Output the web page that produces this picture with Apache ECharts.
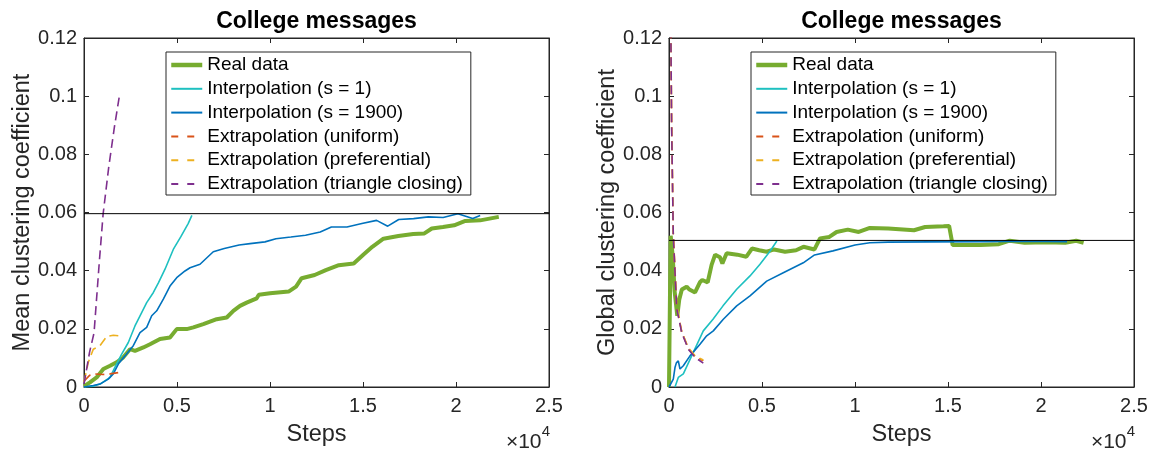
<!DOCTYPE html>
<html>
<head>
<meta charset="utf-8">
<title>College messages</title>
<script src="https://cdn.jsdelivr.net/npm/echarts@6/dist/echarts.min.js"></script>
<style>
  html, body { margin: 0; padding: 0; background: #fff; }
  #chart { width: 1153px; height: 452px; }
</style>
</head>
<body>
<div id="chart"></div>
<script>
// x ticks (steps) and y ticks
const xTicks = [0, 5000, 10000, 15000, 20000, 25000]
const yTicks = [0, 0.02, 0.04, 0.06, 0.08, 0.1, 0.12]

const seriesNames = [
  'Real data',
  'Interpolation (s = 1)',
  'Interpolation (s = 1900)',
  'Extrapolation (uniform)',
  'Extrapolation (preferential)',
  'Extrapolation (triangle closing)'
]

// left panel: mean clustering coefficient  [step, value]
const meanReal = [
  [0, 0.0003], [54, 0.0005], [320, 0.0016], [680, 0.0033], [1040, 0.0062], [1400, 0.0073],
  [1756, 0.0085], [2113, 0.0102], [2473, 0.013], [2742, 0.0124], [3190, 0.0136], [3548, 0.0147],
  [4086, 0.0165], [4624, 0.017], [4984, 0.0199], [5522, 0.0199], [5880, 0.0205], [6414, 0.0216],
  [7134, 0.0233], [7672, 0.0239], [8030, 0.0262], [8387, 0.0279], [8747, 0.029], [9285, 0.0305],
  [9400, 0.0317], [10000, 0.0322], [11000, 0.0328], [11400, 0.0345], [11700, 0.0374],
  [12400, 0.0385], [13000, 0.0402], [13700, 0.0419], [14500, 0.0425], [15000, 0.0454],
  [15500, 0.0482], [16100, 0.051], [16900, 0.0519], [17700, 0.0526], [18300, 0.0528],
  [18700, 0.0545], [19300, 0.055], [19900, 0.0556], [20500, 0.0571], [21300, 0.0573],
  [22300, 0.0585]
]
const meanInterp1 = [
  [0, 0], [500, 0.0003], [860, 0.001], [1398, 0.0033], [1667, 0.0068], [2025, 0.0113],
  [2382, 0.0153], [2740, 0.021], [3100, 0.0256], [3370, 0.029], [3730, 0.0325], [4000, 0.0358],
  [4355, 0.0405], [4800, 0.0473], [5200, 0.0516], [5600, 0.0562], [5800, 0.059]
]
const meanInterp1900 = [
  [0, 0], [500, 0.0005], [860, 0.001], [1306, 0.0027], [1575, 0.0045], [1844, 0.0079],
  [2204, 0.0107], [2650, 0.0142], [3010, 0.0187], [3370, 0.0205], [3640, 0.0245], [3910, 0.0262],
  [4265, 0.0302], [4624, 0.0347], [4984, 0.0376], [5430, 0.0399], [5700, 0.041], [6237, 0.0422],
  [6950, 0.0465], [7540, 0.0476], [8340, 0.0488], [8930, 0.0493], [9730, 0.0499], [10320, 0.051],
  [11120, 0.0516], [11910, 0.0522], [12700, 0.0533], [13300, 0.055], [14140, 0.055],
  [14940, 0.0562], [15730, 0.0573], [16330, 0.0553], [16920, 0.0576], [17720, 0.0579],
  [18510, 0.0585], [19310, 0.0583], [20100, 0.0596], [20900, 0.0579], [21300, 0.059]
]
const meanUniform = [
  [0, 0.002], [300, 0.004], [600, 0.0045], [1000, 0.0043], [1400, 0.0045], [1900, 0.005]
]
const meanPreferential = [
  [0, 0.0017], [231, 0.0085], [500, 0.013], [860, 0.0142], [1220, 0.0174], [1575, 0.0178], [1900, 0.0176]
]
const meanTriangle = [
  [0, 0.001], [300, 0.012], [540, 0.0186], [830, 0.0436], [1030, 0.0596], [1330, 0.0756],
  [1630, 0.0892], [1900, 0.1]
]
const meanTarget = 0.0596

// right panel: global clustering coefficient  [step, value]
const globalReal = [
  [0, 0], [50, 0.03], [90, 0.052], [200, 0.045], [300, 0.033], [446, 0.0245], [550, 0.03],
  [690, 0.0335], [950, 0.0345], [1100, 0.0335], [1400, 0.0325], [1660, 0.036], [1790, 0.0368],
  [2080, 0.036], [2290, 0.042], [2480, 0.0455], [2740, 0.0446], [2870, 0.0425], [3100, 0.046],
  [3670, 0.0455], [4160, 0.0448], [4460, 0.0476], [4850, 0.047], [5250, 0.0465], [5650, 0.0473],
  [6240, 0.0465], [6830, 0.047], [7230, 0.0482], [7820, 0.0473], [8120, 0.0511], [8620, 0.0516],
  [9010, 0.0533], [9610, 0.0541], [10200, 0.0533], [10800, 0.0547], [11790, 0.0545],
  [12780, 0.0541], [13170, 0.0539], [13770, 0.055], [14760, 0.0553], [15060, 0.0554],
  [15250, 0.0488], [15750, 0.0488], [16740, 0.0488], [17730, 0.0491], [18320, 0.0503],
  [19120, 0.0496], [20300, 0.0498], [21300, 0.0496], [21890, 0.0503], [22290, 0.0496]
]
const globalInterp1 = [
  [322, 0], [500, 0.0033], [770, 0.0045], [1306, 0.0119], [1844, 0.0193], [2366, 0.0233],
  [2903, 0.0279], [3640, 0.0336], [4355, 0.0382], [4892, 0.0422], [5430, 0.0467], [5800, 0.0502]
]
const globalInterp1900 = [
  [0, 0], [231, 0.0027], [322, 0.0067], [396, 0.0083], [500, 0.009], [591, 0.0062], [770, 0.0073],
  [1129, 0.0107], [1667, 0.0147], [2026, 0.0176], [2382, 0.0193], [2920, 0.0233], [3640, 0.0279],
  [4355, 0.0313], [5253, 0.0364], [6145, 0.0393], [7220, 0.0427], [7825, 0.0454], [8815, 0.0468],
  [10004, 0.0488], [10796, 0.0496], [11787, 0.0498], [14000, 0.0499], [17000, 0.05],
  [19000, 0.0501], [21400, 0.05]
]
const globalUniform = [
  [0, 0.2], [140, 0.091], [230, 0.0525], [414, 0.0275], [683, 0.019], [1039, 0.0132],
  [1398, 0.0105], [1844, 0.009]
]
const globalPreferential = [
  [0, 0.2], [140, 0.092], [230, 0.053], [414, 0.028], [683, 0.019], [1039, 0.0135],
  [1398, 0.0107], [1844, 0.0093]
]
const globalTriangle = [
  [0, 0.2], [140, 0.09], [231, 0.052], [414, 0.027], [683, 0.0187], [1039, 0.013],
  [1398, 0.0102], [1844, 0.0082]
]
const globalTarget = 0.0504

// 颜色 (MATLAB default-ish)
const colors = ['#77AC30', '#1EC0C0', '#0072BD', '#D95319', '#EDB120', '#7E2F8E']
const axisColor = '#262626'
const font = 'Liberation Sans, Arial, Helvetica, sans-serif'

const panels = [
  { left: 84, yName: 'Mean clustering coefficient', target: meanTarget,
    data: [meanReal, meanInterp1, meanInterp1900, meanUniform, meanPreferential, meanTriangle] },
  { left: 669, yName: 'Global clustering coefficient', target: globalTarget,
    data: [globalReal, globalInterp1, globalInterp1900, globalUniform, globalPreferential, globalTriangle] }
]
const gridTop = 38
const gridW = 465
const gridH = 350

const chart = echarts.init(document.getElementById('chart'))

const grid = []
const xAxis = []
const yAxis = []
const series = []
const legend = []
const graphic = []

const tickFmtX = v => String(v / 10000)
const tickFmtY = v => String(+v.toFixed(2))

panels.forEach((p, i) => {
  grid.push({
    left: p.left, top: gridTop, width: gridW, height: gridH,
    show: true, borderColor: axisColor, borderWidth: 1, backgroundColor: '#fff'
  })

  const xBase = {
    type: 'value', gridIndex: i,
    min: xTicks[0], max: xTicks[xTicks.length - 1], interval: xTicks[1] - xTicks[0],
    axisLine: { show: true, onZero: false, lineStyle: { color: axisColor, width: 1 } },
    axisTick: { show: true, inside: true, length: 5, lineStyle: { color: axisColor } },
    splitLine: { show: false }
  }
  xAxis.push(Object.assign({}, xBase, {
    position: 'bottom',
    name: 'Steps', nameLocation: 'middle', nameGap: 36,
    nameTextStyle: { fontFamily: font, fontSize: 23.5, color: axisColor },
    axisLabel: { formatter: tickFmtX, fontFamily: font, fontSize: 20, color: axisColor, margin: 9 }
  }))
  xAxis.push(Object.assign({}, xBase, { position: 'top', axisLabel: { show: false } }))

  const yBase = {
    type: 'value', gridIndex: i,
    min: yTicks[0], max: yTicks[yTicks.length - 1], interval: yTicks[1] - yTicks[0],
    axisLine: { show: true, onZero: false, lineStyle: { color: axisColor, width: 1 } },
    axisTick: { show: true, inside: true, length: 5, lineStyle: { color: axisColor } },
    splitLine: { show: false }
  }
  yAxis.push(Object.assign({}, yBase, {
    position: 'left',
    name: p.yName, nameLocation: 'middle', nameGap: 49,
    nameTextStyle: { fontFamily: font, fontSize: 23.5, color: axisColor },
    axisLabel: { formatter: tickFmtY, fontFamily: font, fontSize: 20, color: axisColor, margin: 7 }
  }))
  yAxis.push(Object.assign({}, yBase, { position: 'right', axisLabel: { show: false } }))

  p.data.forEach((d, k) => {
    series.push({
      name: seriesNames[k],
      type: 'line',
      xAxisIndex: i * 2, yAxisIndex: i * 2,
      data: d,
      showSymbol: false, symbol: 'none',
      clip: true,
      animation: false,
      color: colors[k],
      lineStyle: { color: colors[k], width: k === 0 ? 4 : 1.6, type: k >= 3 ? [9, 5] : 'solid' },
      z: 2 + k
    })
  })

  // target line
  series.push({
    name: 'target',
    type: 'line',
    xAxisIndex: i * 2, yAxisIndex: i * 2,
    data: [[xTicks[0], p.target], [xTicks[xTicks.length - 1], p.target]],
    showSymbol: false, symbol: 'none', silent: true, animation: false,
    lineStyle: { color: '#000', width: 1 },
    z: 10
  })

  legend.push({
    left: p.left + 82, top: 52,
    orient: 'vertical',
    backgroundColor: '#fff',
    borderColor: axisColor, borderWidth: 1, borderRadius: 0,
    padding: [3, 8, 1, 3],
    itemWidth: 31, itemHeight: 14, itemGap: 3.8,
    itemStyle: { opacity: 0 },
    textStyle: { fontFamily: font, fontSize: 19, color: '#000', lineHeight: 20 },
    selectedMode: false,
    data: seriesNames.map((n, k) => ({
      name: n,
      lineStyle: { width: k === 0 ? 4.5 : 2, type: k >= 3 ? [7, 9] : 'solid' }
    }))
  })

  // title
  graphic.push({
    type: 'text', x: p.left + gridW / 2, y: 10,
    style: { text: 'College messages', font: 'bold 23px ' + font, fill: '#000', align: 'center', verticalAlign: 'top' }
  })
  // ×10^4 exponent
  graphic.push({
    type: 'text', x: p.left + gridW - 7.5, y: 432,
    style: { text: '×10', font: '21px ' + font, fill: axisColor, align: 'right', verticalAlign: 'top' }
  })
  graphic.push({
    type: 'text', x: p.left + gridW - 7.3, y: 424,
    style: { text: '4', font: '15px ' + font, fill: axisColor, align: 'left', verticalAlign: 'top' }
  })
})

chart.setOption({
  animation: false,
  backgroundColor: '#fff',
  grid, xAxis, yAxis, series, legend, graphic
})
</script>
</body>
</html>
